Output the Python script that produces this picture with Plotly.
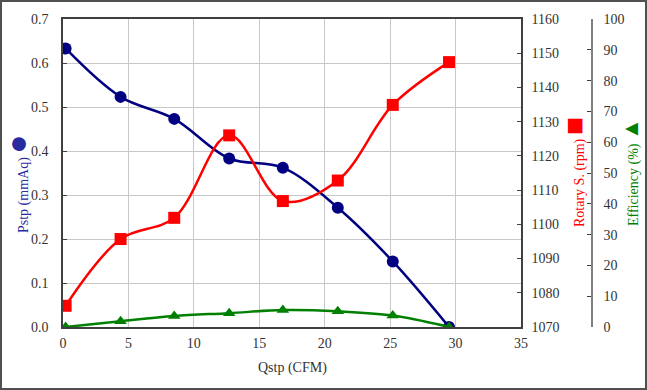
import plotly.graph_objects as go

qstp = [0.2, 4.4, 8.5, 12.7, 16.8, 21.0, 25.2, 29.5]
pstp = [0.633, 0.523, 0.473, 0.383, 0.362, 0.271, 0.149, 0.0]
rpm = [1076.2, 1095.7, 1101.9, 1126.0, 1106.8, 1112.8, 1134.9, 1147.4]
eff = [0.0, 1.9, 3.6, 4.5, 5.5, 5.1, 3.7, 0.0]

x_ticks = [0, 5, 10, 15, 20, 25, 30, 35]

FONT = "Liberation Serif, Times New Roman, serif"
NAVY = "#000080"
RED = "#FF0000"
GREEN = "#008000"
AX = "#404040"
TXT = "#333333"

fig = go.Figure()
fig.add_trace(go.Scatter(x=qstp, y=pstp, mode="lines+markers", yaxis="y",
                         line=dict(color=NAVY, width=2.5, shape="spline"),
                         marker=dict(symbol="circle", size=12, color=NAVY)))
fig.add_trace(go.Scatter(x=qstp, y=rpm, mode="lines+markers", yaxis="y2",
                         line=dict(color=RED, width=2.5, shape="spline"),
                         marker=dict(symbol="square", size=12, color=RED)))
fig.add_trace(go.Scatter(x=qstp, y=eff, mode="lines+markers", yaxis="y3",
                         line=dict(color=GREEN, width=2.5, shape="spline"),
                         marker=dict(symbol="triangle-up", size=11, color=GREEN)))

W, H = 647, 390
L, R, T, B = 63, 20, 19, 63
pw = W - L - R
ph = H - T - B
xdom_end = (521 - L) / pw
eff_pos = (592 - L) / pw

def px(xp):
    return (xp - L) / pw

def py(yp):
    return (H - B - yp) / ph

tf = dict(size=14, family=FONT, color=TXT)

fig.update_layout(
    width=W, height=H,
    margin=dict(l=L, r=R, t=T, b=B, autoexpand=False),
    paper_bgcolor="white", plot_bgcolor="white",
    showlegend=False,
    font=dict(family=FONT, size=14, color=TXT),
    xaxis=dict(domain=[0, xdom_end], range=[0, 35], tickvals=x_ticks,
               showgrid=True, gridcolor="#c8c8c8", gridwidth=1,
               showline=True, linecolor=AX, linewidth=1.5, mirror=True,
               zeroline=False, ticks="", tickfont=tf, ticklabelstandoff=2),
    yaxis=dict(range=[0, 0.7], dtick=0.1, tickformat=".1f",
               showgrid=True, gridcolor="#c8c8c8", gridwidth=1,
               showline=True, linecolor=AX, linewidth=1.5,
               zeroline=False, ticks="inside", ticklen=4, tickcolor=AX,
               tickfont=tf, ticklabelstandoff=10),
    yaxis2=dict(range=[1070, 1160], dtick=10, overlaying="y", side="right",
                anchor="x", showgrid=False, showline=True, linecolor=AX,
                linewidth=1.5, zeroline=False, ticks="inside", ticklen=4,
                tickcolor=AX, tickfont=tf, ticklabelstandoff=6),
    yaxis3=dict(range=[0, 100], dtick=10, overlaying="y", side="right",
                anchor="free", position=eff_pos, showgrid=False,
                showline=True, linecolor="#808080", linewidth=1.5,
                zeroline=False, ticks="inside", ticklen=4, tickcolor=AX,
                tickfont=tf, ticklabelstandoff=8),
)

def ann(text, x, y, color, angle=0):
    fig.add_annotation(text=text, xref="paper", yref="paper",
                       x=px(x), y=py(y), xanchor="center", yanchor="middle",
                       textangle=angle, showarrow=False,
                       font=dict(size=14, color=color, family=FONT))

ann("Qstp (CFM)", 292, 368, TXT)
ann("Pstp (mmAq) <span style='font-size:32px'>●</span>", 17, 183, "#2a2aa0", -90)
ann("Rotary S. (rpm) <span style='font-size:30px'>■</span>", 573, 172, RED, -90)
ann("Efficiency (%) <span style='font-size:22px'>▲</span>", 630, 172, GREEN, -90)

fig.add_shape(type="rect", xref="paper", yref="paper",
              x0=px(1), x1=px(646), y0=py(389), y1=py(1),
              line=dict(color="#505050", width=2), layer="above")

fig.write_html("out.html", config={"displayModeBar": False},
               post_script="document.body.style.margin='0';document.body.style.padding='0';")
